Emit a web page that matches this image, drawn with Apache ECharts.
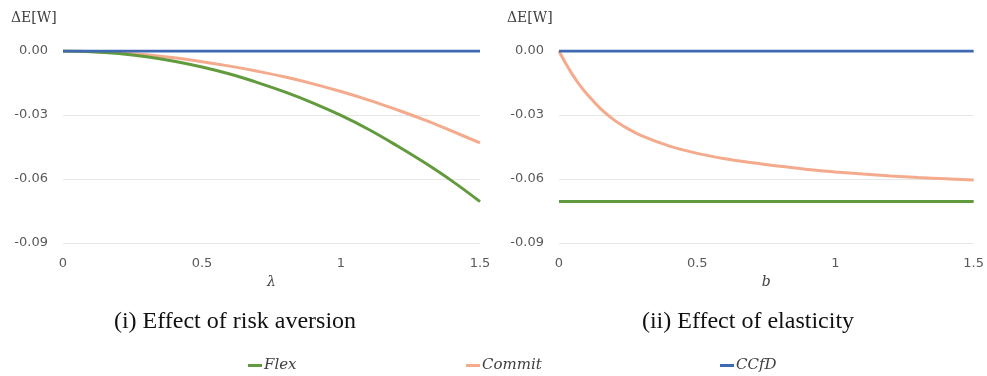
<!DOCTYPE html>
<html><head><meta charset="utf-8">
<script src="https://cdn.jsdelivr.net/npm/echarts@6/dist/echarts.min.js"></script>
<style>html,body{margin:0;padding:0;background:#fff}#c{width:987px;height:376px}</style>
</head><body><div id="c"></div>
<script>
// Panel (i): effect of risk aversion (lambda)
var lambdaVals = [0, 0.1, 0.2, 0.3, 0.4, 0.5, 0.6, 0.7, 0.8, 0.9, 1.0, 1.1, 1.2, 1.3, 1.4, 1.5];
var flexLeft   = [0, -0.0003, -0.0012, -0.0027, -0.0048, -0.0075, -0.0108, -0.0148, -0.0193, -0.0244, -0.0302, -0.0368, -0.0443, -0.0523, -0.0610, -0.0706];
var commitLeft = [0, -0.0002, -0.0008, -0.0018, -0.0032, -0.0050, -0.0071, -0.0095, -0.0122, -0.0154, -0.0190, -0.0230, -0.0275, -0.0323, -0.0376, -0.0431];
var ccfdLeft   = [0, 0, 0, 0, 0, 0, 0, 0, 0, 0, 0, 0, 0, 0, 0, 0];
// Panel (ii): effect of elasticity (b)
var bVals       = [0, 0.025, 0.05, 0.075, 0.1, 0.15, 0.2, 0.25, 0.3, 0.4, 0.5, 0.6, 0.7, 0.8, 0.9, 1.0, 1.1, 1.2, 1.3, 1.4, 1.5];
var commitRight = [0, -0.0060, -0.0113, -0.0160, -0.0200, -0.0270, -0.0324, -0.0365, -0.0398, -0.0446, -0.0480, -0.0505, -0.0524, -0.0540, -0.0555, -0.0567, -0.0577, -0.0586, -0.0593, -0.0599, -0.0605];
var flexRightX  = [0, 1.5];
var flexRight   = [-0.0706, -0.0706];
var ccfdRight   = [0, 0];
var xTicks = [0, 0.5, 1, 1.5];
var yTicks = [0, -0.03, -0.06, -0.09];
var titles = ['(i) Effect of risk aversion', '(ii) Effect of elasticity'];
var xNames = ['\u03bb', 'b'];
var yName = '\u0394E[W]';
var seriesNames = ['Flex', 'Commit', 'CCfD'];
var colors = {Flex: '#629a3e', Commit: '#f4aa8c', CCfD: '#3f69b3'};

function pairs(xs, ys) { return xs.map(function (x, i) { return [x, ys[i]]; }); }

var tickFont = {color: '#595959', fontFamily: 'DejaVu Sans', fontSize: 13};
function xAxis(idx) {
  return {
    type: 'value', gridIndex: idx, min: 0, max: 1.5, interval: 0.5,
    name: xNames[idx], nameLocation: 'middle', nameGap: 29,
    nameTextStyle: {fontFamily: 'DejaVu Serif', fontStyle: 'italic', fontSize: 14, color: '#404040'},
    axisLine: {show: false}, axisTick: {show: false}, splitLine: {show: false},
    axisLabel: Object.assign({margin: 14, formatter: function (v) { return String(v); }}, tickFont)
  };
}
function yAxis(idx) {
  return {
    type: 'value', gridIndex: idx, min: -0.09, max: 0, interval: 0.03,
    name: yName, nameGap: 26, nameLocation: 'end',
    nameTextStyle: {fontFamily: 'DejaVu Serif', fontSize: 14, color: '#404040', align: 'left', padding: [0, 0, 0, -52]},
    axisLine: {show: false}, axisTick: {show: false},
    splitLine: {lineStyle: {color: '#e6e6e6', width: 1}},
    axisLabel: Object.assign({margin: 15, formatter: function (v) { return v.toFixed(2); }}, tickFont)
  };
}
function line(name, idx, data) {
  return {
    name: name, type: 'line', xAxisIndex: idx, yAxisIndex: idx, data: data,
    smooth: 0.4, showSymbol: false, symbol: 'none',
    lineStyle: {color: colors[name], width: 3}, itemStyle: {color: colors[name]},
    z: name === 'CCfD' ? 4 : (name === 'Flex' ? 3 : 2)
  };
}
var legendLefts = [248, 466, 720];
var titleStyle = {fontFamily: 'Liberation Serif', fontWeight: 'normal', fontSize: 24, color: '#111'};
var option = {
  animation: false,
  backgroundColor: '#fff',
  title: [
    {text: titles[0], left: 235, top: 310, textAlign: 'center', padding: 0, textStyle: titleStyle},
    {text: titles[1], left: 748, top: 310, textAlign: 'center', padding: 0, textStyle: titleStyle}
  ],
  legend: seriesNames.map(function (n, i) {
    return {
      data: [n], left: legendLefts[i], top: 358, padding: 0, itemWidth: 14, itemHeight: 3, itemGap: 2,
      icon: 'rect',
      textStyle: {fontFamily: 'DejaVu Serif', fontStyle: 'italic', fontSize: 15, color: '#404040', padding: [0, 0, 0, -3]}
    };
  }),
  grid: [
    {left: 63, width: 417, top: 51, height: 192},
    {left: 559, width: 416, top: 51, height: 192}
  ],
  xAxis: [xAxis(0), xAxis(1)],
  yAxis: [yAxis(0), yAxis(1)],
  series: [
    line('Commit', 0, pairs(lambdaVals, commitLeft)),
    line('Flex', 0, pairs(lambdaVals, flexLeft)),
    line('CCfD', 0, pairs(lambdaVals, ccfdLeft)),
    line('Commit', 1, pairs(bVals, commitRight)),
    line('Flex', 1, pairs(flexRightX, flexRight)),
    line('CCfD', 1, pairs(flexRightX, ccfdRight))
  ]
};
echarts.init(document.getElementById('c'), null, {renderer: 'canvas'}).setOption(option);
</script></body></html>
